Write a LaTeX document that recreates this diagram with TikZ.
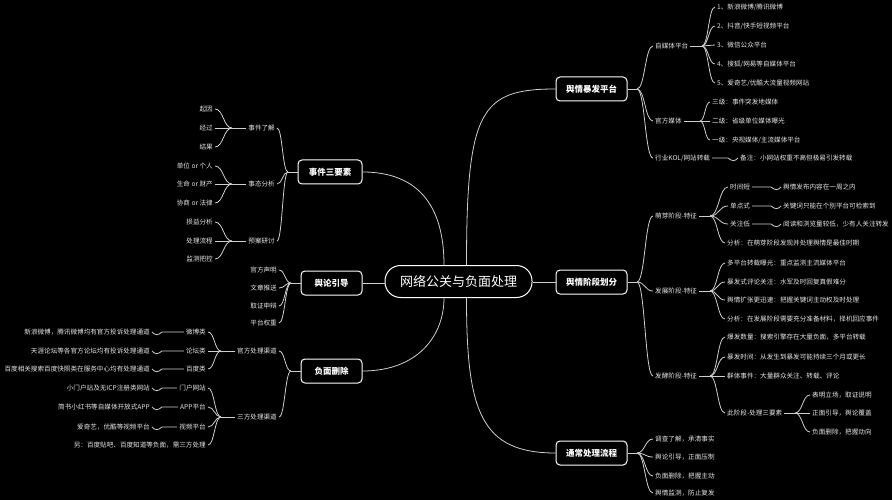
\documentclass[tikz,border=0pt]{standalone}
\usepackage{fontspec}
\setmainfont{Noto Sans CJK SC}
\usetikzlibrary{calc}
\definecolor{lc}{HTML}{CFCFCF}
\definecolor{tc}{HTML}{E6E6E6}
\begin{document}
\begin{tikzpicture}[x=1pt,y=-1pt,
 ln/.style={draw=lc,line width=0.8pt},
 leaf/.style={text=tc,font=\fontsize{6.6}{8}\selectfont,inner sep=2pt},
 lr/.style={leaf,anchor=west},
 ll/.style={leaf,anchor=east},
 mbox/.style={draw=white,line width=1pt,rounded corners=4pt,text=white,font=\fontsize{8.5}{10}\selectfont\bfseries,minimum height=24pt,inner sep=0pt},
 cbox/.style={draw=white,line width=1pt,rounded corners=15.5pt,text=white,font=\fontsize{13}{15}\selectfont,minimum height=32pt,minimum width=147pt,inner sep=0pt},
 brc/.style={to path={let \p1=(\tikztostart),\p2=(\tikztotarget) in .. controls ({0.5*(\x1+\x2)},\y1) and ({0.5*(\x1+\x2)},\y2) .. (\tikztotarget)}},
 wvr/.style={to path={-- ($(\tikztotarget)+(-10,0)$) .. controls ($(\tikztotarget)+(-6,3.5)$) and ($(\tikztotarget)+(-3,3.5)$) .. (\tikztotarget)}},
 wvl/.style={to path={-- ($(\tikztotarget)+(10,0)$) .. controls ($(\tikztotarget)+(6,3.5)$) and ($(\tikztotarget)+(3,3.5)$) .. (\tikztotarget)}}]
\fill[black] (0,0) rectangle (892,500);
\useasboundingbox (0,0) rectangle (892,500);

% centre and main boxes
\node[cbox] (C) at (458.5,281.5) {网络公关与负面处理};
\node[mbox,minimum width=71pt] (B1) at (591.5,89) {舆情暴发平台};
\node[mbox,minimum width=71pt] (B2) at (591.5,282) {舆情阶段划分};
\node[mbox,minimum width=71pt] (B3) at (591.5,453) {通常处理流程};
\node[mbox,minimum width=64pt] (L1) at (330,172) {事件三要素};
\node[mbox,minimum width=61pt] (L2) at (331.5,283) {舆论引导};
\node[mbox,minimum width=61pt] (L3) at (331.5,371) {负面删除};

\coordinate (cTL) at ([xshift=-14.5pt]C.north);
\coordinate (cTR) at ([xshift=8pt]C.north);
\coordinate (cBL) at ([xshift=-14.5pt]C.south);
\coordinate (cBR) at ([xshift=8pt]C.south);

\draw[ln] (L1.east) .. controls ($(L1.east)+(55,0)$) and ($(cTL)+(0,-60)$) .. (cTL);
\draw[ln] (L3.east) .. controls ($(L3.east)+(55,0)$) and ($(cBL)+(0,38)$) .. (cBL);
\draw[ln] (cTR) .. controls ($(cTR)+(0,-155)$) and ($(B1.west)+(-75,0)$) .. (B1.west);
\draw[ln] (cBR) .. controls ($(cBR)+(0,113)$) and ($(B3.west)+(-75,0)$) .. (B3.west);
\draw[ln] (L2.east) -- (L2.east -| C.west);
\draw[ln] (B2.west -| C.east) -- (B2.west);

% ---------- B1 ----------
\coordinate (bB1) at (637,89);
\node[lr] (r11) at (653,46) {自媒体平台};
\node[lr] (r12) at (653,121) {官方媒体};
\node[lr] (r13) at (653,158) {行业KOL/网站转载};
\draw[ln] (B1.east) -- (bB1);
\foreach \c in {r11,r12,r13} \draw[ln] (bB1) to[brc] (\c.west);

\coordinate (b11) at (702,46);
\node[lr] (r111) at (715,7) {1、新浪微博/腾讯微博};
\node[lr] (r112) at (715,26) {2、抖音/快手短视频平台};
\node[lr] (r113) at (715,45) {3、微信公众平台};
\node[lr] (r114) at (715,64) {4、搜狐/网易等自媒体平台};
\node[lr] (r115) at (715,83) {5、爱奇艺/优酷大流量视频网站};
\draw[ln] (r11.east) -- (b11);
\foreach \c in {r111,r112,r113,r114,r115} \draw[ln] (b11) to[brc] (\c.west);

\coordinate (b12) at (700,121);
\node[lr] (r121) at (710,102) {三级：事件突发地媒体};
\node[lr] (r122) at (710,121) {二级：省级单位媒体曝光};
\node[lr] (r123) at (710,140) {一级：央视媒体/主流媒体平台};
\draw[ln] (r12.east) -- (b12);
\foreach \c in {r121,r122,r123} \draw[ln] (b12) to[brc] (\c.west);

\node[lr] (r131) at (738,158) {备注：小网站权重不高但极易引发转载};
\draw[ln] (r13.east) to[wvr] (r131.west);

% ---------- B2 ----------
\coordinate (bB2) at (637,282);
\node[lr] (r21) at (653,216) {萌芽阶段-特征};
\node[lr] (r22) at (653,291) {发展阶段-特征};
\node[lr] (r23) at (653,376) {发酵阶段-特征};
\draw[ln] (B2.east) -- (bB2);
\foreach \c in {r21,r22,r23} \draw[ln] (bB2) to[brc] (\c.west);

\coordinate (b21) at (710,216);
\node[lr] (r211) at (728,187) {时间短};
\node[lr] (r212) at (728,206) {单点式};
\node[lr] (r213) at (728,224) {关注低};
\node[lr] (r214) at (725,243) {分析：在萌芽阶段发现并处理舆情是最佳时期};
\draw[ln] (r21.east) -- (b21);
\foreach \c in {r211,r212,r213,r214} \draw[ln] (b21) to[brc] (\c.west);
\node[lr] (r2111) at (781,187) {舆情发布内容在一周之内};
\node[lr] (r2121) at (781,206) {关键词只能在个别平台可检索到};
\node[lr] (r2131) at (781,224) {阅读和浏览量较低，少有人关注转发};
\draw[ln] (r211.east) to[wvr] (r2111.west);
\draw[ln] (r212.east) to[wvr] (r2121.west);
\draw[ln] (r213.east) to[wvr] (r2131.west);

\coordinate (b22) at (710,291);
\node[lr] (r221) at (725,263) {多平台转载曝光：重点监测主流媒体平台};
\node[lr] (r222) at (725,282) {暴发式评论关注：水军及时回复真假难分};
\node[lr] (r223) at (725,300) {舆情扩张更迅速：把握关键词主动权及时处理};
\node[lr] (r224) at (725,319) {分析：在发展阶段需要充分准备材料，择机回应事件};
\draw[ln] (r22.east) -- (b22);
\foreach \c in {r221,r222,r223,r224} \draw[ln] (b22) to[brc] (\c.west);

\coordinate (b23) at (710,376);
\node[lr] (r231) at (725,337) {爆发数量：搜索引擎存在大量负面，多平台转载};
\node[lr] (r232) at (725,357) {暴发时间：从发生到暴发可能持续三个月或更长};
\node[lr] (r233) at (725,376) {群体事件：大量群众关注、转载、评论};
\node[lr] (r234) at (725,413) {此阶段-处理三要素};
\draw[ln] (r23.east) -- (b23);
\foreach \c in {r231,r232,r233,r234} \draw[ln] (b23) to[brc] (\c.west);

\coordinate (b234) at (795,413);
\node[lr] (r2341) at (810,395) {表明立场，取证说明};
\node[lr] (r2342) at (810,413) {正面引导，舆论覆盖};
\node[lr] (r2343) at (810,432) {负面删除，把握动向};
\draw[ln] (r234.east) -- (b234);
\foreach \c in {r2341,r2342,r2343} \draw[ln] (b234) to[brc] (\c.west);

% ---------- B3 ----------
\coordinate (bB3) at (637,453);
\node[lr] (r31) at (653,439) {调查了解，承清事实};
\node[lr] (r32) at (653,457) {舆论引导，正面压制};
\node[lr] (r33) at (653,476) {负面删除，把握主动};
\node[lr] (r34) at (653,493) {舆情监测，防止复发};
\draw[ln] (B3.east) -- (bB3);
\foreach \c in {r31,r32,r33,r34} \draw[ln] (bB3) to[brc] (\c.west);

% ---------- L1 ----------
\coordinate (bL1) at (288,172);
\node[ll] (l11) at (277,128) {事件了解};
\node[ll] (l12) at (277,184) {事态分析};
\node[ll] (l13) at (277,241) {预案研讨};
\draw[ln] (L1.west) -- (bL1);
\foreach \c in {l11,l12,l13} \draw[ln] (bL1) to[brc] (\c.east);

\coordinate (b11L) at (232,128);
\node[ll] (l111) at (215,109) {起因};
\node[ll] (l112) at (215,128) {经过};
\node[ll] (l113) at (215,147) {结果};
\draw[ln] (l11.west) -- (b11L);
\foreach \c in {l111,l112,l113} \draw[ln] (b11L) to[brc] (\c.east);

\coordinate (b12L) at (232,184);
\node[ll] (l121) at (215,166) {单位 or 个人};
\node[ll] (l122) at (215,184) {生命 or 财产};
\node[ll] (l123) at (215,203) {协商 or 法律};
\draw[ln] (l12.west) -- (b12L);
\foreach \c in {l121,l122,l123} \draw[ln] (b12L) to[brc] (\c.east);

\coordinate (b13L) at (232,241);
\node[ll] (l131) at (215,222) {损益分析};
\node[ll] (l132) at (215,241) {处理流程};
\node[ll] (l133) at (215,259) {监测把控};
\draw[ln] (l13.west) -- (b13L);
\foreach \c in {l131,l132,l133} \draw[ln] (b13L) to[brc] (\c.east);

% ---------- L2 ----------
\coordinate (bL2) at (291,283);
\node[ll] (l21) at (279,270) {官方声明};
\node[ll] (l22) at (279,288) {文章推送};
\node[ll] (l23) at (279,306) {取证申辩};
\node[ll] (l24) at (279,323) {平台权重};
\draw[ln] (L2.west) -- (bL2);
\foreach \c in {l21,l22,l23,l24} \draw[ln] (bL2) to[brc] (\c.east);

% ---------- L3 ----------
\coordinate (bL3) at (291,371);
\node[ll] (l31) at (279,351) {官方处理渠道};
\node[ll] (l32) at (279,417) {三方处理渠道};
\draw[ln] (L3.west) -- (bL3);
\foreach \c in {l31,l32} \draw[ln] (bL3) to[brc] (\c.east);

\coordinate (b31) at (221,351);
\node[ll] (l311) at (208,332) {微博类};
\node[ll] (l312) at (208,351) {论坛类};
\node[ll] (l313) at (208,369) {百度类};
\draw[ln] (l31.west) -- (b31);
\foreach \c in {l311,l312,l313} \draw[ln] (b31) to[brc] (\c.east);

\coordinate (b32) at (221,417);
\node[ll] (l321) at (208,388) {门户网站};
\node[ll] (l322) at (208,407) {APP平台};
\node[ll] (l323) at (208,427) {视频平台};
\node[ll] (l324) at (208,445) {另：百度贴吧、百度知道等负面，需三方处理};
\draw[ln] (l32.west) -- (b32);
\foreach \c in {l321,l322,l323,l324} \draw[ln] (b32) to[brc] (\c.east);

\node[ll] (l3111) at (152,332) {新浪微博，腾讯微博均有官方投诉处理通道};
\node[ll] (l3121) at (152,351) {天涯论坛等各官方论坛均有投诉处理通道};
\node[ll] (l3131) at (152,369) {百度相关搜索百度快照类在服务中心均有处理通道};
\node[ll] (l3211) at (152,388) {小门户站及无ICP注册类网站};
\node[ll] (l3221) at (152,407) {简书小红书等自媒体开放式APP};
\node[ll] (l3231) at (152,427) {爱奇艺，优酷等视频平台};
\draw[ln] (l311.west) to[wvl] (l3111.east);
\draw[ln] (l312.west) to[wvl] (l3121.east);
\draw[ln] (l313.west) to[wvl] (l3131.east);
\draw[ln] (l321.west) to[wvl] (l3211.east);
\draw[ln] (l322.west) to[wvl] (l3221.east);
\draw[ln] (l323.west) to[wvl] (l3231.east);
\end{tikzpicture}
\end{document}
